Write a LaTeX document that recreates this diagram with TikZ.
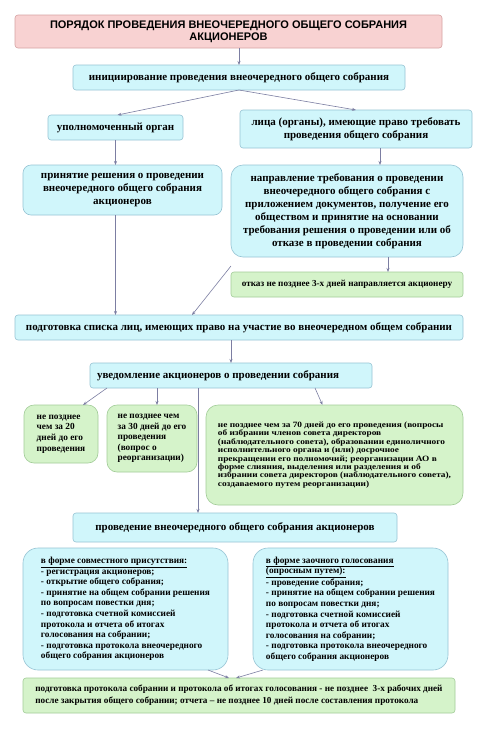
\documentclass[tikz,border=0pt]{standalone}
\usepackage{fontspec}
\setmainfont{Liberation Serif}
\newfontfamily\headfont{Liberation Sans}
\newfontfamily\widefont[FakeStretch=1.15]{Liberation Serif}
\usetikzlibrary{arrows.meta}
\definecolor{cyanfill}{HTML}{D0F6FB}
\definecolor{cyanline}{HTML}{96C4D4}
\definecolor{greenfill}{HTML}{D5F3CA}
\definecolor{greenline}{HTML}{A2CC98}
\definecolor{pinkfill}{HTML}{F8D2D2}
\definecolor{pinkline}{HTML}{D6A2A2}
\definecolor{arrline}{HTML}{7C7EA2}

\begin{document}
\begin{tikzpicture}[x=1pt,y=-1pt,
  box/.style={draw,line width=.6pt,rounded corners=3pt,inner sep=0pt,outer sep=0pt,align=center},
  cbox/.style={box,fill=cyanfill,draw=cyanline},
  gbox/.style={box,fill=greenfill,draw=greenline},
  sz/.style n args={2}{minimum width=#1,minimum height=#2},
  big/.style={font=\fontsize{11}{13}\selectfont\bfseries},
  mid/.style={font=\fontsize{9.3}{10.6}\selectfont\bfseries},
  small/.style={font=\fontsize{9.2}{12}\selectfont\bfseries},
  tiny/.style={font=\widefont\fontsize{8.1}{8.4}\selectfont\bfseries},
  arr/.style={draw=arrline,line width=.6pt,-{Stealth[length=4pt,width=3pt]}}]
  \useasboundingbox[fill=white] (0,0) rectangle (500,742);
  \node[box,fill=pinkfill,draw=pinkline,sz={427pt}{33pt},font=\headfont\fontsize{11}{12}\selectfont\bfseries] (title) at (228.5,31.5)
    {ПОРЯДОК ПРОВЕДЕНИЯ ВНЕОЧЕРЕДНОГО ОБЩЕГО СОБРАНИЯ\\АКЦИОНЕРОВ};
  \node[cbox,big,sz={332pt}{25pt}] (init) at (239,77.5) {инициирование проведения внеочередного общего собрания};
  \node[cbox,big,sz={135pt}{25pt}] (organ) at (115.5,127.5) {уполномоченный орган};
  \node[cbox,big,sz={232pt}{38pt}] (persons) at (356,129) {лица (органы), имеющие право требовать\\проведения общего собрания};
  \node[cbox,big,sz={199pt}{50pt},rounded corners=8pt] (decision) at (122.5,190)
    {принятие решения о проведении\\внеочередного общего собрания\\акционеров};
  \node[cbox,big,sz={232pt}{92pt},rounded corners=12pt] (demand) at (347,211)
    {направление требования о проведении\\внеочередного общего собрания с\\приложением документов, получение его\\обществом и принятие на основании\\требования решения о проведении или об\\отказе в проведении собрания};
  \node[gbox,small,sz={232pt}{25pt}] (refusal) at (347,284.5) {отказ не позднее 3-х дней направляется акционеру};
  \node[cbox,big,sz={448pt}{25pt}] (list) at (239,327.5)
    {подготовка списка лиц, имеющих право на участие во внеочередном общем собрании};
  \node[cbox,big,sz={282pt}{25pt}] (notice) at (231,375.5) {\makebox[268pt][l]{уведомление акционеров о проведении собрания}};
  \node[gbox,mid,sz={74pt}{58pt},rounded corners=10pt,align=left] (t20) at (61,434)
    {не позднее\\чем за 20\\дней до его\\проведения};
  \node[gbox,mid,sz={90pt}{67pt},rounded corners=10pt,align=left] (t30) at (152,438.5)
    {не позднее чем\\за 30 дней до его\\проведения\\(вопрос о\\реорганизации)};
  \node[gbox,tiny,sz={257pt}{100pt},rounded corners=12pt,align=left] (t70) at (334.5,455)
    {не позднее чем за 70 дней до его проведения (вопросы\\об избрании членов совета директоров\\(наблюдательного совета), образовании единоличного\\исполнительного органа и (или) досрочное\\прекращении его полномочий; реорганизации АО в\\форме слияния, выделения или разделения и об\\избрании совета директоров (наблюдательного совета),\\создаваемого путем реорганизации)};
  \node[cbox,big,sz={324pt}{29pt}] (meeting) at (235,527.5) {проведение внеочередного общего собрания акционеров};
  \node[cbox,mid,sz={205pt}{122pt},rounded corners=15pt,align=left] (joint) at (125.5,609)
    {\underline{в форме совместного присутствия:}\\- регистрация акционеров;\\- открытие общего собрания;\\- принятие на общем собрании решения\\по вопросам повестки дня;\\- подготовка счетной комиссией\\протокола и отчета об итогах\\голосования на собрании;\\- подготовка протокола внеочередного\\общего собрания акционеров};
  \node[cbox,mid,sz={195pt}{122pt},rounded corners=15pt,align=left] (absent) at (350.5,609)
    {\underline{в форме заочного голосования}\\\underline{(опросным путем):}\\- проведение собрания;\\- принятие на общем собрании решения\\по вопросам повестки дня;\\- подготовка счетной комиссией\\протокола и отчета об итогах\\голосования на собрании;\\- подготовка протокола внеочередного\\общего собрания акционеров};
  \node[gbox,small,sz={432pt}{35pt},align=left] (minutes) at (239,695.5)
    {подготовка протокола собрании и протокола об итогах голосования - не позднее\ \ 3-х рабочих дней\\после закрытия общего собрании; отчета – не позднее 10 дней после составления протокола};
  \coordinate (a1) at ([xshift=24pt]persons.south);
  \coordinate (a2) at ([xshift=41pt]demand.south);
  \coordinate (a3) at (organ.south |- decision.south);
  \coordinate (a4) at ([yshift=-9pt]demand.south west);
  \coordinate (a5) at ([xshift=-124pt]notice.south);
  \coordinate (a6) at ([xshift=-74pt]notice.south);
  \coordinate (a7) at ([xshift=-33pt]notice.south);
  \coordinate (a8) at ([xshift=84pt]notice.south);
  \draw[arr] (init.north |- title.south) -- (init.north);
  \draw[arr] (init.south) -- ([xshift=2pt]organ.north);
  \draw[arr] (init.south) -- (persons.north);
  \draw[arr] (organ.south) -- (organ.south |- decision.north);
  \draw[arr] (a1) -- (a1 |- demand.north);
  \draw[arr] (a2) -- (a2 |- refusal.north);
  \draw[arr] (a3) -- (a3 |- list.north);
  \draw[arr] (a4) -- ([xshift=-47pt]list.north);
  \draw[arr] (notice.north |- list.south) -- (notice.north);
  \draw[arr] (a5) -- ([xshift=22pt]t20.north);
  \draw[arr] (a6) -- (a6 |- t30.north);
  \draw[arr] (a7) -- (a7 |- meeting.north);
  \draw[arr] (a8) -- ([xshift=-12pt]t70.north);
  \draw[arr] ([xshift=-20pt]joint.south east) -- ([xshift=-10pt]minutes.north);
  \draw[arr] ([xshift=10pt]absent.south west) -- ([xshift=-3pt]minutes.north);
\end{tikzpicture}
\end{document}
